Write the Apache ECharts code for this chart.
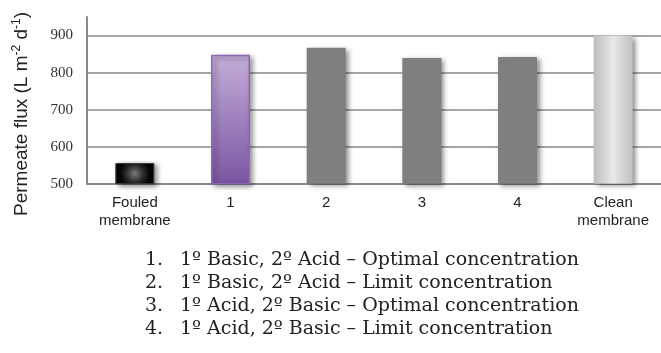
<!DOCTYPE html>
<html>
<head>
<meta charset="utf-8">
<script src="https://cdn.jsdelivr.net/npm/echarts@6/dist/echarts.min.js"></script>
<style>
  html, body { margin: 0; padding: 0; background: #ffffff; }
  #chart { width: 661px; height: 353px; }
</style>
</head>
<body>
<div id="chart"></div>
<script>
// Treatment categories along the x axis
const categories = ['Fouled\nmembrane', '1', '2', '3', '4', 'Clean\nmembrane'];
// Permeate flux for each category (L m-2 d-1)
const flux = [556, 848, 867, 839, 842, 900];
// Value axis range and step
const yMin = 500;
const yMax = 950;
const yStep = 100;
// Cleaning protocol key printed under the chart
const keyNumbers = ['1.', '2.', '3.', '4.'];
const keyTexts = [
  '1º Basic, 2º Acid – Optimal concentration',
  '1º Basic, 2º Acid – Limit concentration',
  '1º Acid, 2º Basic – Optimal concentration',
  '1º Acid, 2º Basic – Limit concentration'
];

const shadow = {
  shadowColor: 'rgba(0,0,0,0.45)',
  shadowBlur: 5,
  shadowOffsetX: 3,
  shadowOffsetY: 2
};

// Fill for each bar, in category order
const barFills = [
  {
    color: { type: 'radial', x: 0.5, y: 0.5, r: 0.7,
      colorStops: [{ offset: 0, color: '#7a7a7a' }, { offset: 0.6, color: '#2a2a2a' }, { offset: 1, color: '#050505' }] },
    borderColor: '#3a3a3a', borderWidth: 1
  },
  {
    color: { type: 'linear', x: 0, y: 0, x2: 0, y2: 1,
      colorStops: [{ offset: 0, color: '#c3add8' }, { offset: 1, color: '#7b55a2' }] },
    borderColor: '#8d69b5', borderWidth: 1.5
  },
  { color: '#7f7f7f' },
  { color: '#7f7f7f' },
  { color: '#7f7f7f' },
  {
    color: { type: 'linear', x: 0, y: 0, x2: 1, y2: 0,
      colorStops: [
        { offset: 0, color: '#bdbdbd' },
        { offset: 0.5, color: '#e8e8e8' },
        { offset: 1, color: '#c0c0c0' }
      ] }
  }
];

const barData = flux.map((v, i) => ({
  value: v,
  itemStyle: Object.assign({}, shadow, barFills[i])
}));

const keyFont = '19px "DejaVu Serif"';
const keyGraphics = [];
keyTexts.forEach((t, i) => {
  const y = 262 + i * 23;
  keyGraphics.push({
    type: 'text', left: 145, top: y - 11,
    style: { text: keyNumbers[i], font: keyFont, fill: '#222' }
  });
  keyGraphics.push({
    type: 'text', left: 180, top: y - 11,
    style: { text: t, font: keyFont, fill: '#222' }
  });
});

const chart = echarts.init(document.getElementById('chart'), null, { renderer: 'canvas' });
chart.setOption({
  animation: false,
  backgroundColor: '#ffffff',
  grid: { left: 87, top: 17, width: 583, height: 166.7 },
  xAxis: {
    type: 'category',
    data: categories,
    axisLine: { lineStyle: { color: '#8a8a8a', width: 2 } },
    axisTick: { length: 5, lineStyle: { color: '#8a8a8a', width: 1.5 } },
    axisLabel: {
      margin: 10, color: '#222', fontFamily: 'Liberation Sans', fontSize: 15, lineHeight: 18
    }
  },
  yAxis: {
    type: 'value',
    min: yMin, max: yMax, interval: yStep,
    axisLine: { show: true, lineStyle: { color: '#8a8a8a', width: 2 } },
    axisTick: { show: false },
    splitLine: { show: true, showMinLine: false, showMaxLine: false,
      lineStyle: { color: '#8a8a8a', width: 1.5 } },
    axisLabel: {
      margin: 14, color: '#333', fontFamily: 'Liberation Serif', fontSize: 15,
      showMaxLabel: false
    }
  },
  graphic: [
    {
      type: 'text',
      x: 22, y: 114,
      rotation: Math.PI / 2,
      style: {
        text: '{n|Permeate flux (L m}{s|-2}{n| d}{s|-1}{n|)}',
        align: 'center', verticalAlign: 'middle',
        fill: '#222',
        rich: {
          n: { fontFamily: 'Liberation Sans', fontSize: 19, lineHeight: 22, fill: '#222' },
          s: { fontFamily: 'Liberation Sans', fontSize: 12, lineHeight: 22, verticalAlign: 'top', padding: [0, 0, 10, 0], fill: '#222' }
        }
      }
    }
  ].concat(keyGraphics),
  series: [{
    type: 'bar',
    data: barData,
    barWidth: 39
  }]
});
</script>
</body>
</html>
